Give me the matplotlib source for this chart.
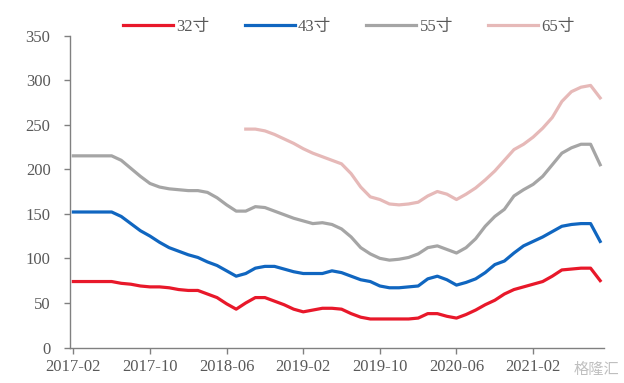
import numpy as np
import matplotlib.pyplot as plt

plt.rcParams['font.family'] = ['Liberation Serif', 'Noto Sans CJK SC']

months = ["2017-02", "2017-03", "2017-04", "2017-05", "2017-06", "2017-07", "2017-08", "2017-09",
          "2017-10", "2017-11", "2017-12", "2018-01", "2018-02", "2018-03", "2018-04", "2018-05",
          "2018-06", "2018-07", "2018-08", "2018-09", "2018-10", "2018-11", "2018-12", "2019-01",
          "2019-02", "2019-03", "2019-04", "2019-05", "2019-06", "2019-07", "2019-08", "2019-09",
          "2019-10", "2019-11", "2019-12", "2020-01", "2020-02", "2020-03", "2020-04", "2020-05",
          "2020-06", "2020-07", "2020-08", "2020-09", "2020-10", "2020-11", "2020-12", "2021-01",
          "2021-02", "2021-03", "2021-04", "2021-05", "2021-06", "2021-07", "2021-08", "2021-09"]

tv32 = [74, 74, 74, 74, 74, 72, 71, 69, 68, 68, 67, 65, 64, 64, 60, 56,
        49, 43, 50, 56, 56, 52, 48, 43, 40, 42, 44, 44, 43, 38, 34, 32,
        32, 32, 32, 32, 33, 38, 38, 35, 33, 37, 42, 48, 53, 60, 65, 68,
        71, 74, 80, 87, 88, 89, 89, 75]

tv43 = [152, 152, 152, 152, 152, 147, 139, 131, 125, 118, 112, 108, 104, 101, 96, 92,
        86, 80, 83, 89, 91, 91, 88, 85, 83, 83, 83, 86, 84, 80, 76, 74,
        69, 67, 67, 68, 69, 77, 80, 76, 70, 73, 77, 84, 93, 97, 106, 114,
        119, 124, 130, 136, 138, 139, 139, 119]

tv55 = [215, 215, 215, 215, 215, 210, 201, 192, 184, 180, 178, 177, 176, 176, 174, 168,
        160, 153, 153, 158, 157, 153, 149, 145, 142, 139, 140, 138, 133, 124, 112, 105,
        100, 98, 99, 101, 105, 112, 114, 110, 106, 112, 122, 136, 147, 155, 170, 177,
        183, 192, 205, 218, 224, 228, 228, 205]

# 65寸 starts in 2018-08
tv65 = [np.nan] * 18 + [245, 245, 243, 239, 234, 229, 223, 218, 214, 210, 206, 195, 180, 169,
        166, 161, 160, 161, 163, 170, 175, 172, 166, 172, 179, 188, 198, 210, 222, 228,
        236, 246, 258, 276, 287, 292, 294, 280]

labels = ["32寸", "43寸", "55寸", "65寸"]
colors = ["#E8182A", "#1066C0", "#A5A5A5", "#E6B9B8"]

fig = plt.figure(figsize=(6.24, 3.83), dpi=100)
ax = fig.add_axes([70 / 624, 1 - 347.5 / 383, 534 / 624, 312 / 383])

x = np.arange(len(months))
for series, lab, c in zip([tv32, tv43, tv55, tv65], labels, colors):
    ax.plot(x, series, color=c, lw=2.3, label=lab, solid_joinstyle='round')

ax.set_xlim(-0.35, 55.4)
ax.set_ylim(0, 350)
ax.set_yticks(range(0, 351, 50))
ax.set_xticks(x[::8])
ax.set_xticklabels(months[::8])

for s in ["top", "right"]:
    ax.spines[s].set_visible(False)
for s in ["left", "bottom"]:
    ax.spines[s].set_color("#808080")
    ax.spines[s].set_linewidth(1.0)
ax.tick_params(axis="both", colors="#808080", length=4, width=1.0,
               labelcolor="#595959", labelsize=12)
ax.tick_params(axis="y", pad=10)
ax.tick_params(axis="x", pad=4)

fig.legend(loc="center", bbox_to_anchor=(0.559, 0.93), ncol=4, frameon=False,
           handlelength=3.0, handletextpad=0.2, columnspacing=2.1,
           prop={"size": 12}, labelcolor="#595959")

fig.text(0.993, 0.035, "格隆汇", ha="right", va="center", fontsize=11,
         color="#B0B0B0", alpha=0.8, family=["Noto Sans CJK SC"])

fig.savefig("out.png", dpi=100)
